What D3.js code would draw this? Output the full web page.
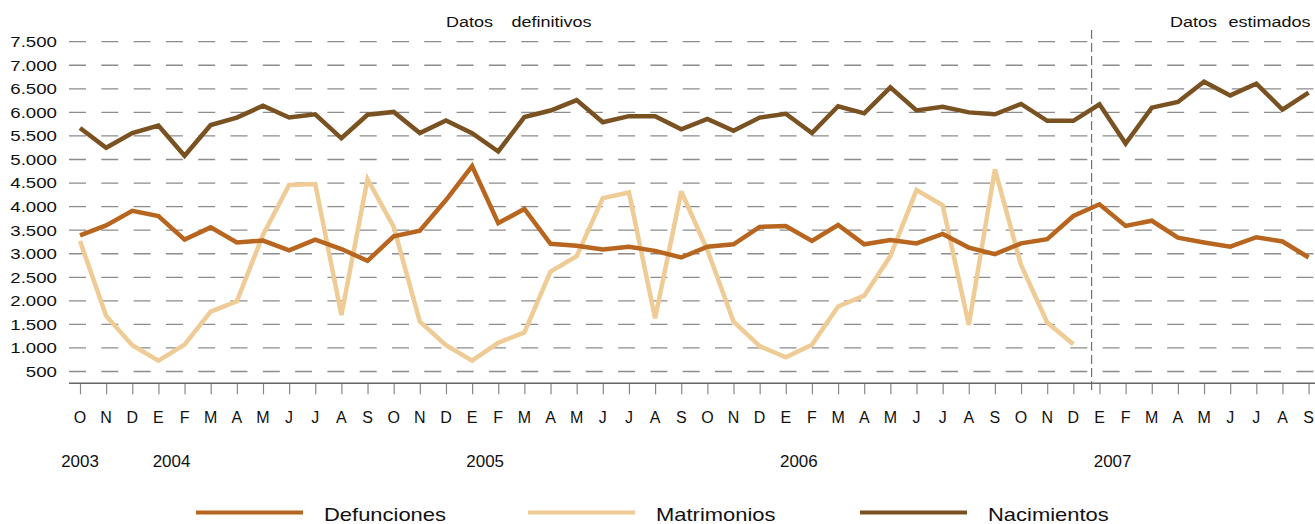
<!DOCTYPE html>
<html>
<head>
<meta charset="utf-8">
<script src="https://cdn.jsdelivr.net/npm/d3@7"></script>
<style>
  html, body { margin: 0; padding: 0; background: #fff; }
  svg { display: block; }
  text { font-family: "Liberation Sans", Arial, Helvetica, sans-serif; fill: #111; }
</style>
</head>
<body>
<svg id="chart" width="1315" height="524"></svg>
<script>
// ---- data ----
const months = ["O","N","D",
  "E","F","M","A","M","J","J","A","S","O","N","D",
  "E","F","M","A","M","J","J","A","S","O","N","D",
  "E","F","M","A","M","J","J","A","S","O","N","D",
  "E","F","M","A","M","J","J","A","S"];
const years = [
  {label: "2003", at: 0},
  {label: "2004", at: 3.5},
  {label: "2005", at: 15.5},
  {label: "2006", at: 27.5},
  {label: "2007", at: 39.5}
];
const yTicks = [500,1000,1500,2000,2500,3000,3500,4000,4500,5000,5500,6000,6500,7000,7500];

const defunciones = [3390,3600,3910,3800,3300,3560,3240,3280,3070,3300,3100,2850,
  3370,3490,4140,4860,3650,3950,3210,3170,3090,3150,3060,2920,
  3150,3200,3570,3590,3270,3610,3200,3290,3220,3420,3130,2990,
  3220,3310,3800,4050,3590,3700,3340,3240,3150,3350,3260,2920];
const matrimonios = [3270,1680,1060,730,1070,1770,1990,3400,4460,4480,1700,4580,
  3570,1560,1060,730,1110,1330,2620,2950,4180,4300,1630,4320,
  3080,1560,1040,800,1070,1880,2110,2950,4350,4030,1490,4790,
  2760,1540,1080];
const nacimientos = [5670,5250,5560,5720,5080,5730,5890,6140,5890,5960,5450,5950,
  6010,5560,5830,5560,5170,5900,6040,6260,5790,5920,5920,5640,
  5860,5610,5890,5970,5560,6130,5980,6530,6040,6120,6000,5960,
  6180,5820,5820,6170,5340,6100,6220,6650,6360,6610,6060,6420];

const series = [
  {name: "Matrimonios", values: matrimonios, color: "#efcb95"},
  {name: "Defunciones", values: defunciones, color: "#b8661f"},
  {name: "Nacimientos", values: nacimientos, color: "#7a5121"}
];
const legendOrder = ["Defunciones", "Matrimonios", "Nacimientos"];
const splitAt = 38.7; // boundary between "Datos definitivos" and "Datos estimados"

// ---- layout ----
const svg = d3.select("#chart");
const plotLeft = 69, plotRight = 1315;
const x = d3.scaleLinear().domain([0, months.length - 1]).range([80, 1308.6]);
const y = d3.scaleLinear().domain([250, 7500]).range([383.3, 41.7]);

function stretchedText(g, tx, ty, str, size, anchor, sx, baseline) {
  const t = g.append("text")
    .attr("transform", `translate(${tx},${ty}) scale(${sx},1)`)
    .attr("font-size", size)
    .attr("text-anchor", anchor)
    .text(str);
  if (baseline) t.attr("dy", baseline);
  return t;
}

// gridlines
const grid = svg.append("g");
grid.selectAll("line").data(yTicks).join("line")
  .attr("x1", plotLeft).attr("x2", plotRight)
  .attr("y1", d => y(d)).attr("y2", d => y(d))
  .attr("stroke", "#8c8c8c").attr("stroke-width", 1.3)
  .attr("stroke-dasharray", "17,15.3");

// y labels
const yl = svg.append("g");
yTicks.forEach(v => {
  stretchedText(yl, 57, y(v), d3.format(",")(v).replace(/,/g, "."), 15, "end", 1.245, "0.36em");
});

// vertical split line
const xSplit = x(splitAt);
svg.append("line")
  .attr("x1", xSplit).attr("x2", xSplit)
  .attr("y1", 30).attr("y2", 392)
  .attr("stroke", "#666").attr("stroke-width", 1.1)
  .attr("stroke-dasharray", "9,4");

// x axis
const axis = d3.axisBottom(x)
  .tickValues(d3.range(months.length))
  .tickSize(11)
  .tickFormat("");
const ax = svg.append("g").attr("transform", `translate(0,${y(250)})`).call(axis);
ax.select(".domain").remove();
ax.selectAll(".tick line").attr("stroke", "#888").attr("stroke-width", 1.2);
svg.append("line")
  .attr("x1", plotLeft).attr("x2", plotRight)
  .attr("y1", y(250)).attr("y2", y(250))
  .attr("stroke", "#666").attr("stroke-width", 1.6);

// month labels
const ml = svg.append("g");
months.forEach((m, i) => stretchedText(ml, x(i), 422.5, m, 16, "middle", 1.0));

// year labels
const yrl = svg.append("g");
years.forEach(d => stretchedText(yrl, x(d.at), 467, d.label, 16, "middle", 1.06));

// top annotations
const ann = svg.append("g");
stretchedText(ann, 446, 27, "Datos", 15, "start", 1.2);
stretchedText(ann, 511.5, 27, "definitivos", 15, "start", 1.2);
stretchedText(ann, 1170, 27, "Datos", 15, "start", 1.2);
stretchedText(ann, 1228.5, 27, "estimados", 15, "start", 1.2);

// lines
const line = d3.line().x((d, i) => x(i)).y(d => y(d));
svg.append("g").selectAll("path").data(series).join("path")
  .attr("d", d => line(d.values))
  .attr("fill", "none")
  .attr("stroke", d => d.color)
  .attr("stroke-width", 4.5)
  .attr("stroke-linejoin", "miter")
  .attr("stroke-miterlimit", 3);

// legend
const legendX = [196, 528, 860];
const lg = svg.append("g");
legendOrder.forEach((name, k) => {
  const s = series.find(d => d.name === name);
  lg.append("line")
    .attr("x1", legendX[k]).attr("x2", legendX[k] + 107)
    .attr("y1", 512.5).attr("y2", 512.5)
    .attr("stroke", s.color).attr("stroke-width", 4);
  stretchedText(lg, legendX[k] + 128, 521, name, 18, "start", 1.22);
});
</script>
</body>
</html>
